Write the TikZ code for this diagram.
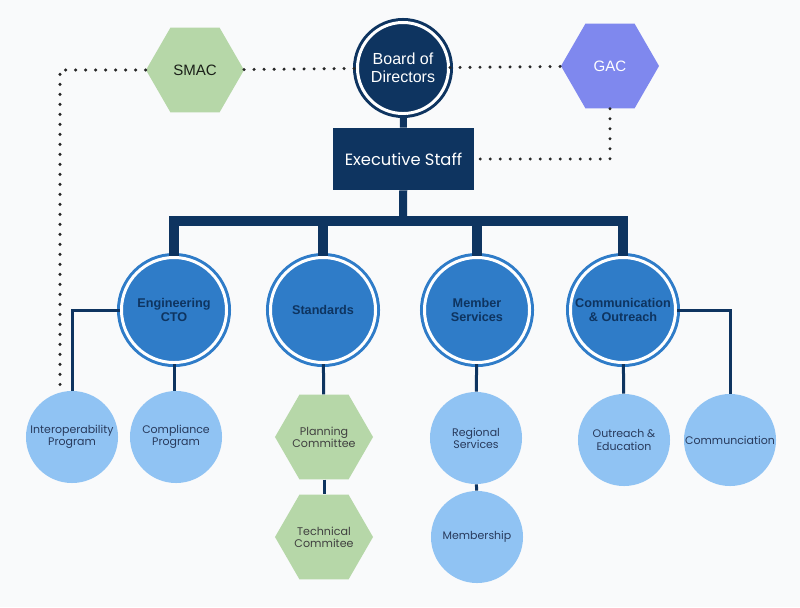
\documentclass[tikz,border=0pt]{standalone}
\usepackage{fontspec}
\setmainfont{Liberation Sans}
\newfontfamily\geofont{Poppins}
\usetikzlibrary{shapes.geometric}
\definecolor{marinito}{RGB}{14,52,96}
\definecolor{azulito}{RGB}{47,124,200}
\definecolor{celestito}{RGB}{144,195,243}
\definecolor{verdito}{RGB}{182,215,168}
\definecolor{lilita}{RGB}{127,136,238}
\definecolor{fondito}{RGB}{249,250,251}
\definecolor{textito}{RGB}{40,58,92}
\tikzset{
  jefe/.style={circle, fill=marinito, draw=marinito, double=white, double distance=0.075cm, line width=0.075cm, inner sep=0pt, minimum size=2.275cm, text=white, align=center, font=\fontsize{11.4}{12.6}\selectfont},
  area/.style={circle, fill=azulito, draw=azulito, double=white, double distance=0.075cm, line width=0.075cm, inner sep=0pt, minimum size=2.625cm, text=marinito, align=center, font=\fontsize{9}{9.6}\selectfont\bfseries},
  programa/.style={circle, fill=celestito, inner sep=0pt, minimum size=2.3cm, text=textito, align=center, font=\geofont\fontsize{7.8}{8.6}\selectfont},
  hexa/.style={regular polygon, regular polygon sides=6, fill=verdito, inner sep=0pt, minimum size=2.45cm},
  comite/.style={hexa, label={[text=black!75, align=center, font=\geofont\fontsize{7.9}{8.8}\selectfont]center:#1}},
  grueso/.style={draw=marinito, line width=0.25cm},
  fino/.style={draw=marinito, line width=0.075cm},
  punteado/.style={draw=black!85, line width=0.085cm, line cap=round, dash pattern=on 0pt off 0.25cm}
}

\begin{document}
\begin{tikzpicture}[x=0.025cm, y=-0.025cm]
  \useasboundingbox[fill=fondito] (0,0) rectangle (800,607);

  \node[jefe] (junta) at (403,68) {Board of\\Directors};
  \node[draw=none, fill=marinito, minimum width=3.525cm, minimum height=1.55cm, inner sep=0pt, text=white, font=\geofont\fontsize{11.6}{14}\selectfont] (ejec) at (403.5,159) {Executive Staff};
  \node[hexa, font=\fontsize{10.7}{12}\selectfont, text=black!70!verdito!50!black] (smac) at (195,70) {SMAC};
  \node[hexa, fill=lilita, text=white, font=\fontsize{10.7}{12}\selectfont] (gac) at (610,66) {GAC};

  \node[area] (ing) at (174,310) {Engineering\\CTO};
  \node[area] (est) at (323,310) {Standards};
  \node[area] (miem) at (477,310) {Member\\Services};
  \node[area] (com) at (623,310) {Communication\\\& Outreach};

  \node[programa] (inter) at (72,437) {Interoperability\\Program};
  \node[programa] (cumpl) at (176,437) {Compliance\\Program};
  \node[comite={Planning\\Committee}] (plan) at (324,437) {};
  \node[comite={Technical\\Commitee}] (tec) at (324,537) {};
  \node[programa] (reg) at (476,438) {Regional\\Services};
  \node[programa] (memb) at (477,537) {Membership};
  \node[programa] (alc) at (624,440) {Outreach \&\\Education};
  \node[programa] (comu) at (730,440) {Communciation};

  \coordinate (bus) at (403,221);
  \coordinate (finpunteo) at (60,388);

  % gruesas
  \draw[grueso, line width=0.175cm] (junta) -- (ejec);
  \draw[grueso, line width=0.2cm] (ejec) -- (bus);
  \draw[grueso] (ing.north) -- (ing.north |- bus) -- (com.north |- bus) -- (com.north);
  \draw[grueso] (est.north) -- (est.north |- bus);
  \draw[grueso] (miem.north) -- (miem.north |- bus);

  % finas
  \draw[fino] (ing.west) -| (inter.north);
  \draw[fino] (ing.south) -- (ing.south |- cumpl.north);
  \draw[fino] (est) -- (plan);
  \draw[fino] (plan) -- (tec);
  \draw[fino] (miem) -- (reg);
  \draw[fino] (reg) -- (memb);
  \draw[fino] (com) -- (alc);
  \draw[fino] (com.east) -| (comu.north);

  % punteadas
  \draw[punteado] (smac) -- (junta);
  \draw[punteado] (junta) -- (gac);
  \draw[punteado] (smac.west) -| (finpunteo);
  \draw[punteado] (gac.south) |- (ejec.east);
\end{tikzpicture}
\end{document}
